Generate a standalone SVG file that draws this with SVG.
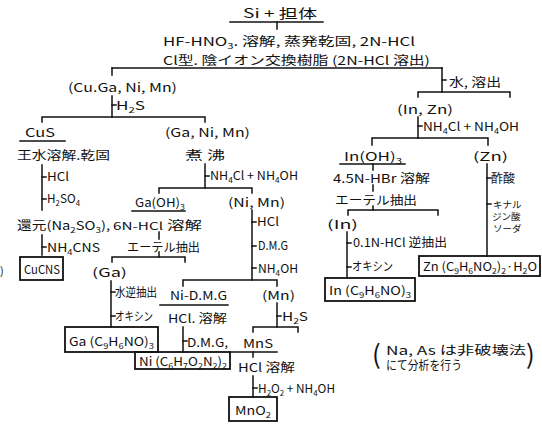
<svg xmlns="http://www.w3.org/2000/svg" width="542" height="425" viewBox="0 0 542 425">
<style>
text{font-family:"Noto Sans CJK JP","Noto Sans",sans-serif;font-size:12px;fill:#111}
.s{font-size:8px}
.lg{font-size:13px}
.sm{font-size:10.5px}
.xs{font-size:9.5px}
#conn line,#conn polyline{stroke:#111;stroke-width:1.5;fill:none;stroke-linecap:square}
rect.box{fill:none;stroke:#111;stroke-width:1.8}
</style>
<rect width="542" height="425" fill="#fff"/>
<g id="conn">
<line x1="230" y1="22" x2="323" y2="22"/><line x1="277" y1="22" x2="277" y2="29"/>
<line x1="112" y1="68" x2="442" y2="68"/><line x1="112" y1="68" x2="112" y2="75"/>
<line x1="442" y1="68" x2="442" y2="92"/><line x1="442" y1="80" x2="446" y2="80"/>
<polyline points="418,97 418,92 510,92 510,97"/>
<line x1="418" y1="117" x2="418" y2="138"/><line x1="418" y1="126" x2="422" y2="126"/>
<polyline points="372,145 372,138 488,138 488,145"/>
<line x1="340" y1="164" x2="405" y2="164"/><line x1="373" y1="164" x2="373" y2="170"/>
<line x1="373" y1="185" x2="373" y2="191"/>
<polyline points="348,215 348,210 438,210 438,215"/><line x1="373" y1="206" x2="373" y2="210"/>
<line x1="347" y1="232" x2="347" y2="277"/><line x1="347" y1="243" x2="351" y2="243"/><line x1="347" y1="267" x2="351" y2="267"/>
<line x1="487" y1="164" x2="487" y2="256"/><line x1="487" y1="178" x2="491" y2="178"/><line x1="487" y1="204" x2="491" y2="204"/>
<line x1="112" y1="96" x2="112" y2="117"/><line x1="112" y1="105" x2="116" y2="105"/>
<polyline points="42,122 42,117 205,117 205,122"/>
<line x1="20" y1="141" x2="65" y2="141"/>
<line x1="42" y1="165" x2="42" y2="210"/><line x1="42" y1="177" x2="46" y2="177"/><line x1="42" y1="199" x2="46" y2="199"/>
<line x1="42" y1="235" x2="42" y2="255"/><line x1="42" y1="247" x2="46" y2="247"/>
<line x1="205" y1="164" x2="205" y2="188"/><line x1="205" y1="176" x2="209" y2="176"/>
<polyline points="159,193 159,188 252,188 252,193"/>
<line x1="132" y1="211" x2="185" y2="211"/>
<line x1="159" y1="232" x2="159" y2="239"/><line x1="159" y1="252" x2="159" y2="257"/>
<polyline points="112,262 112,257 185,257 185,262"/>
<line x1="111" y1="281" x2="111" y2="327"/><line x1="111" y1="292" x2="115" y2="292"/><line x1="111" y1="316" x2="115" y2="316"/>
<line x1="252" y1="210" x2="252" y2="280"/><line x1="252" y1="222" x2="256" y2="222"/><line x1="252" y1="246" x2="256" y2="246"/><line x1="252" y1="268" x2="256" y2="268"/>
<polyline points="183,286 183,280 277,280 277,286"/>
<line x1="160" y1="305" x2="228" y2="305"/>
<line x1="183" y1="327" x2="183" y2="352"/><line x1="183" y1="341" x2="187" y2="341"/>
<line x1="277" y1="303" x2="277" y2="327"/><line x1="277" y1="316" x2="281" y2="316"/>
<polyline points="253,332 253,327 298,327 298,332"/>
<line x1="230" y1="352" x2="277" y2="352"/><line x1="253" y1="352" x2="253" y2="357"/>
<line x1="253" y1="376" x2="253" y2="397"/><line x1="253" y1="388" x2="257" y2="388"/>
</g>
<g id="n-top">
<text class="lg" x="243" y="18" textLength="74" lengthAdjust="spacingAndGlyphs">Si + 担体</text>
<text x="163" y="46" textLength="252" lengthAdjust="spacingAndGlyphs">HF-HNO<tspan class="s" dy="3">3</tspan><tspan dy="-3">. 溶解, 蒸発乾固, 2N-HCl</tspan></text>
<text x="163" y="65" textLength="267" lengthAdjust="spacingAndGlyphs">Cl型. 陰イオン交換樹脂 (2N-HCl 溶出)</text>
</g>
<g id="n-water"><text x="449" y="87" textLength="52" lengthAdjust="spacingAndGlyphs">水, 溶出</text></g>
<g id="n-cugani"><text x="68" y="92" textLength="109" lengthAdjust="spacingAndGlyphs">(Cu.Ga, Ni, Mn)</text>
<text x="116" y="110" textLength="29" lengthAdjust="spacingAndGlyphs">H<tspan class="s" dy="3">2</tspan><tspan dy="-3">S</tspan></text></g>
<g id="n-inzn"><text x="397" y="114" textLength="56" lengthAdjust="spacingAndGlyphs">(In, Zn)</text>
<text x="423" y="131" textLength="96" lengthAdjust="spacingAndGlyphs">NH<tspan class="s" dy="3">4</tspan><tspan dy="-3">Cl + NH</tspan><tspan class="s" dy="3">4</tspan><tspan dy="-3">OH</tspan></text></g>
<g id="n-cus"><text x="25" y="137" textLength="30" lengthAdjust="spacingAndGlyphs">CuS</text>
<text x="17" y="160" textLength="93" lengthAdjust="spacingAndGlyphs">王水溶解.乾固</text>
<text x="47" y="181" textLength="22" lengthAdjust="spacingAndGlyphs">HCl</text>
<text x="47" y="203" textLength="33" lengthAdjust="spacingAndGlyphs">H<tspan class="s" dy="3">2</tspan><tspan dy="-3">SO</tspan><tspan class="s" dy="3">4</tspan></text>
<text x="17" y="230" textLength="93" lengthAdjust="spacingAndGlyphs">還元(Na<tspan class="s" dy="3">2</tspan><tspan dy="-3">SO</tspan><tspan class="s" dy="3">3</tspan><tspan dy="-3">),</tspan></text>
<text x="47" y="252" textLength="53" lengthAdjust="spacingAndGlyphs">NH<tspan class="s" dy="3">4</tspan><tspan dy="-3">CNS</tspan></text></g>
<g id="n-cucns"><rect class="box" x="20" y="257" width="43" height="23"/><text x="24" y="274" textLength="36" lengthAdjust="spacingAndGlyphs">CuCNS</text></g>
<g id="n-edge"><text x="0" y="275" style="font-size:11px">)</text></g>
<g id="n-ganimn"><text x="165" y="137" textLength="85" lengthAdjust="spacingAndGlyphs">(Ga, Ni, Mn)</text>
<text x="185" y="160" textLength="40" lengthAdjust="spacingAndGlyphs">煮 沸</text>
<text x="210" y="180" textLength="88" lengthAdjust="spacingAndGlyphs">NH<tspan class="s" dy="3">4</tspan><tspan dy="-3">Cl + NH</tspan><tspan class="s" dy="3">4</tspan><tspan dy="-3">OH</tspan></text></g>
<g id="n-gaoh"><text x="135" y="207" textLength="50" lengthAdjust="spacingAndGlyphs">Ga(OH)<tspan class="s" dy="3">3</tspan></text>
<text x="113" y="230" textLength="89" lengthAdjust="spacingAndGlyphs"><tspan class="sm">6N-HCl</tspan> 溶解</text>
<text x="127" y="252" textLength="73" lengthAdjust="spacingAndGlyphs">エーテル抽出</text></g>
<g id="n-ga"><text x="92" y="277" textLength="35" lengthAdjust="spacingAndGlyphs">(Ga)</text>
<text x="115" y="297" textLength="42" lengthAdjust="spacingAndGlyphs">水逆抽出</text>
<text x="115" y="321" textLength="38" lengthAdjust="spacingAndGlyphs">オキシン</text></g>
<g id="n-gabox"><rect class="box" x="65" y="327" width="93" height="25"/><text x="69" y="346" textLength="85" lengthAdjust="spacingAndGlyphs">Ga (C<tspan class="s" dy="3">9</tspan><tspan dy="-3">H</tspan><tspan class="s" dy="3">6</tspan><tspan dy="-3">NO)</tspan><tspan class="s" dy="3">3</tspan></text></g>
<g id="n-nimn"><text x="228" y="207" textLength="57" lengthAdjust="spacingAndGlyphs">(Ni, Mn)</text>
<text x="257" y="226" textLength="22" lengthAdjust="spacingAndGlyphs">HCl</text>
<text x="258" y="250" textLength="30" lengthAdjust="spacingAndGlyphs">D.M.G</text>
<text x="258" y="273" textLength="40" lengthAdjust="spacingAndGlyphs">NH<tspan class="s" dy="3">4</tspan><tspan dy="-3">OH</tspan></text></g>
<g id="n-nidmg"><text x="170" y="300" textLength="57" lengthAdjust="spacingAndGlyphs">Ni-D.M.G</text>
<text x="168" y="323" textLength="59" lengthAdjust="spacingAndGlyphs">HCl. 溶解</text>
<text x="187" y="347" textLength="41" lengthAdjust="spacingAndGlyphs">D.M.G,</text></g>
<g id="n-nibox"><rect class="box" x="135" y="352" width="95" height="17"/><text x="139" y="366" textLength="88" lengthAdjust="spacingAndGlyphs">Ni (C<tspan class="s" dy="3">6</tspan><tspan dy="-3">H</tspan><tspan class="s" dy="3">7</tspan><tspan dy="-3">O</tspan><tspan class="s" dy="3">2</tspan><tspan dy="-3">N</tspan><tspan class="s" dy="3">2</tspan><tspan dy="-3">)</tspan><tspan class="s" dy="3">2</tspan></text></g>
<g id="n-mn"><text x="262" y="300" textLength="33" lengthAdjust="spacingAndGlyphs">(Mn)</text>
<text x="282" y="321" textLength="26" lengthAdjust="spacingAndGlyphs">H<tspan class="s" dy="3">2</tspan><tspan dy="-3">S</tspan></text>
<text x="243" y="348" textLength="30" lengthAdjust="spacingAndGlyphs">MnS</text>
<text x="238" y="372" textLength="57" lengthAdjust="spacingAndGlyphs">HCl 溶解</text>
<text x="258" y="393" textLength="77" lengthAdjust="spacingAndGlyphs">H<tspan class="s" dy="3">2</tspan><tspan dy="-3">O</tspan><tspan class="s" dy="3">2</tspan><tspan dy="-3"> + NH</tspan><tspan class="s" dy="3">4</tspan><tspan dy="-3">OH</tspan></text></g>
<g id="n-mno2"><rect class="box" x="229" y="397" width="48" height="24"/><text x="235" y="415" textLength="36" lengthAdjust="spacingAndGlyphs">MnO<tspan class="s" dy="3">2</tspan></text></g>
<g id="n-inoh"><text x="344" y="161" textLength="58" lengthAdjust="spacingAndGlyphs">In(OH)<tspan class="s" dy="3">3</tspan></text>
<text x="333" y="183" textLength="97" lengthAdjust="spacingAndGlyphs">4.5N-HBr 溶解</text>
<text x="335" y="205" textLength="82" lengthAdjust="spacingAndGlyphs">エーテル抽出</text></g>
<g id="n-in"><text x="327" y="229" textLength="31" lengthAdjust="spacingAndGlyphs">(In)</text>
<text x="353" y="247" textLength="94" lengthAdjust="spacingAndGlyphs">0.1N-HCl 逆抽出</text>
<text x="352" y="271" textLength="41" lengthAdjust="spacingAndGlyphs">オキシン</text></g>
<g id="n-inbox"><rect class="box" x="325" y="278" width="90" height="23"/><text x="329" y="295" textLength="82" lengthAdjust="spacingAndGlyphs">In (C<tspan class="s" dy="3">9</tspan><tspan dy="-3">H</tspan><tspan class="s" dy="3">6</tspan><tspan dy="-3">NO)</tspan><tspan class="s" dy="3">3</tspan></text></g>
<g id="n-zn"><text x="473" y="161" textLength="35" lengthAdjust="spacingAndGlyphs">(Zn)</text>
<text x="491" y="183" textLength="24" lengthAdjust="spacingAndGlyphs">酢酸</text>
<text class="xs"><tspan x="493" y="208">キナル</tspan><tspan x="492" y="220">ジン酸</tspan><tspan x="493" y="232">ソーダ</tspan></text></g>
<g id="n-znbox"><rect class="box" x="419" y="256" width="121" height="20"/><text x="423" y="271" textLength="114" lengthAdjust="spacingAndGlyphs">Zn (C<tspan class="s" dy="3">9</tspan><tspan dy="-3">H</tspan><tspan class="s" dy="3">6</tspan><tspan dy="-3">NO</tspan><tspan class="s" dy="3">2</tspan><tspan dy="-3">)</tspan><tspan class="s" dy="3">2</tspan><tspan dy="-3">·H</tspan><tspan class="s" dy="3">2</tspan><tspan dy="-3">O</tspan></text></g>
<g id="n-note">
<text x="372" y="364" style="font-size:26px">(</text>
<text x="386" y="355" textLength="140" lengthAdjust="spacingAndGlyphs">Na, As は非破壊法</text>
<text x="386" y="370" textLength="76" lengthAdjust="spacingAndGlyphs">にて分析を行う</text>
<text x="526" y="364" style="font-size:26px">)</text>
</g>
</svg>
